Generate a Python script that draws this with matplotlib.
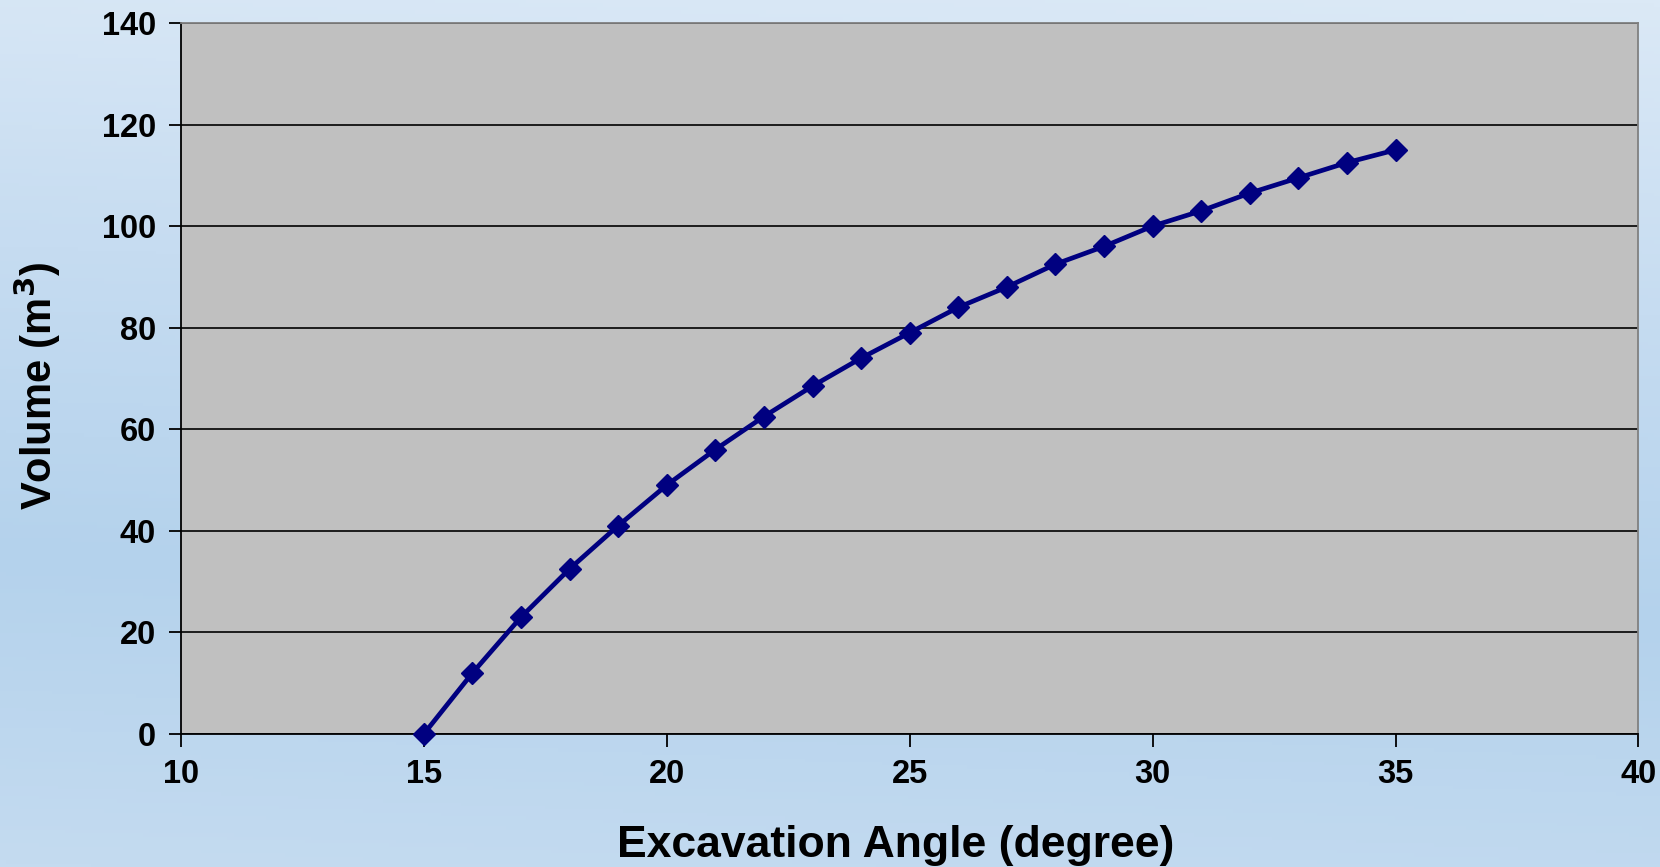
import numpy as np
import matplotlib.pyplot as plt
from matplotlib.colors import LinearSegmentedColormap

# data
angle = [15, 16, 17, 18, 19, 20, 21, 22, 23, 24, 25,
         26, 27, 28, 29, 30, 31, 32, 33, 34, 35]
volume = [0, 12, 23, 32.5, 41, 49, 56, 62.5, 68.5, 74, 79,
          84, 88, 92.5, 96, 100, 103, 106.5, 109.5, 112.5, 115]
x_ticks = [10, 15, 20, 25, 30, 35, 40]
y_ticks = [0, 20, 40, 60, 80, 100, 120, 140]

plt.rcParams["font.family"] = ["Liberation Sans", "DejaVu Sans"]
plt.rcParams["font.weight"] = "bold"

fig = plt.figure(figsize=(16.6, 8.67), dpi=100)

# blue gradient background behind everything
bg = fig.add_axes([0, 0, 1, 1], zorder=-10)
grad = LinearSegmentedColormap.from_list(
    "bg", ["#dbe9f6", "#c6dcf1", "#b4d2ec", "#c4dbf0"])
yy = np.linspace(0, 1, 256)[:, None]
xx = np.linspace(0, 1, 256)[None, :]
bg.imshow(yy - 0.08 * xx, cmap=grad, aspect="auto", extent=[0, 1, 0, 1],
          origin="upper", vmin=-0.08, vmax=1)
bg.axis("off")

ax = fig.add_axes([0.109, 0.1535, 0.878, 0.82])
ax.set_facecolor("#c0c0c0")
ax.plot(angle, volume, color="#000080", lw=3.4, marker="D", ms=11.5,
        clip_on=False, zorder=3)

ax.set_xlim(10, 40)
ax.set_ylim(0, 140)
ax.set_xticks(x_ticks)
ax.set_yticks(y_ticks)
ax.grid(axis="y", color="black", lw=1.2)
ax.set_axisbelow(True)

for side in ["left", "bottom"]:
    ax.spines[side].set_color("black")
    ax.spines[side].set_linewidth(1.3)
for side in ["top", "right"]:
    ax.spines[side].set_color("#808080")
    ax.spines[side].set_linewidth(1.3)

ax.tick_params(direction="out", length=9, width=1.3, labelsize=23.5, pad=9)
ax.set_xlabel("Excavation Angle (degree)", fontsize=32, fontweight="bold",
              labelpad=25)
ax.set_ylabel("Volume (m$^\\mathbf{3}$)", fontsize=30, fontweight="bold",
              labelpad=28)
ax.xaxis.label.set_x(0.4905)
ax.yaxis.label.set_y(0.49)

fig.savefig("out.png", dpi=100)
